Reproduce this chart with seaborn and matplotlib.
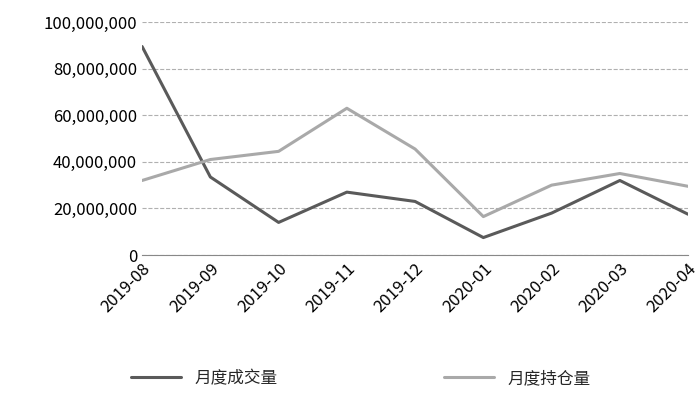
import matplotlib
matplotlib.use("Agg")
import matplotlib.pyplot as plt
import seaborn as sns
import pandas as pd
from matplotlib.ticker import FuncFormatter

months = ["2019-08","2019-09","2019-10","2019-11","2019-12","2020-01","2020-02","2020-03","2020-04"]
volume = [89.5e6, 33.5e6, 14e6, 27e6, 23e6, 7.5e6, 18e6, 32e6, 17.5e6]
openint = [32e6, 41e6, 44.5e6, 63e6, 45.5e6, 16.5e6, 30e6, 35e6, 29.5e6]

sns.set_style("white")
plt.rcParams['font.family'] = ['Noto Sans CJK SC', 'DejaVu Sans']

df = pd.DataFrame({"month": months * 2,
                   "value": volume + openint,
                   "series": ["月度成交量"] * 9 + ["月度持仓量"] * 9})

fig = plt.figure(figsize=(7, 4.01), dpi=100)
ax = fig.add_axes([0.203, 0.364, 0.78, 0.581])
sns.lineplot(data=df, x="month", y="value", hue="series", sort=False,
             palette=["#5a5a5a", "#a9a9a9"], linewidth=2.2, ax=ax, legend=True)
ax.set_ylim(0, 100e6)
ax.set_xlim(0, 8)
ax.set_yticks(range(0, 100000001, 20000000))
ax.yaxis.set_major_formatter(FuncFormatter(lambda v, p: f"{int(v):,}"))
ax.grid(axis="y", linestyle="--", color="#b0b0b0", linewidth=0.8)
for s in ["top", "right", "left"]:
    ax.spines[s].set_visible(False)
ax.spines["bottom"].set_color("#888888")
ax.set_xlabel("")
ax.set_ylabel("")
ax.tick_params(axis="both", labelsize=12, colors="black", length=0)
plt.setp(ax.get_xticklabels(), rotation=45, ha="right", rotation_mode="anchor")
h, l = ax.get_legend_handles_labels()
ax.legend(h, l, loc="center", bbox_to_anchor=(0.4, -0.53), ncol=2, frameon=False,
          fontsize=12, columnspacing=10, handlelength=3)
fig.savefig("out.png", dpi=100)
